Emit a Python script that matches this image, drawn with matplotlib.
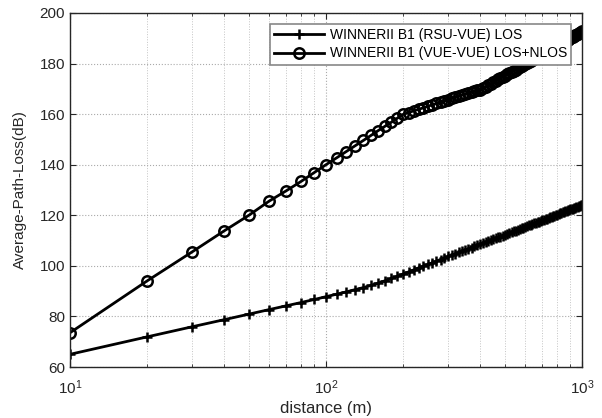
import numpy as np
import matplotlib
matplotlib.use('Agg')
import matplotlib.pyplot as plt
from matplotlib.ticker import LogLocator, NullFormatter

plt.rcParams['font.family'] = ['Liberation Sans', 'DejaVu Sans']
plt.rcParams['mathtext.default'] = 'regular'

# distance axis, 10 m .. 1000 m in 10 m steps
distance = np.arange(10, 1001, 10)

# WINNER II B1 (RSU-VUE) LOS
pl_rsu_los = [
    65.0, 71.9, 75.9, 78.7, 80.9, 82.7, 84.2, 85.5, 86.7, 87.8,
    88.8, 89.7, 90.6, 91.4, 92.3, 93.2, 94.1, 95.0, 95.9, 96.8,
    97.6, 98.4, 99.2, 99.9, 100.6, 101.2, 101.9, 102.5, 103.1, 103.7,
    104.2, 104.8, 105.3, 105.8, 106.3, 106.8, 107.2, 107.7, 108.1, 108.5,
    109.0, 109.4, 109.8, 110.2, 110.5, 110.9, 111.3, 111.6, 112.0, 112.3,
    112.7, 113.0, 113.3, 113.6, 113.9, 114.2, 114.5, 114.8, 115.1, 115.4,
    115.7, 116.0, 116.2, 116.5, 116.8, 117.0, 117.3, 117.5, 117.8, 118.0,
    118.3, 118.5, 118.7, 119.0, 119.2, 119.4, 119.6, 119.9, 120.1, 120.3,
    120.5, 120.7, 120.9, 121.1, 121.3, 121.5, 121.7, 121.9, 122.1, 122.3,
    122.5, 122.6, 122.8, 123.0, 123.2, 123.4, 123.5, 123.7, 123.9, 124.1,
]

# WINNER II B1 (VUE-VUE) LOS+NLOS
pl_vue_mix = [
    73.5, 94.0, 105.5, 113.8, 120.0, 125.6, 129.7, 133.4, 136.9, 140.0,
    142.7, 145.2, 147.5, 149.6, 151.6, 153.5, 155.2, 156.8, 158.4, 159.9,
    160.6, 161.3, 161.9, 162.5, 163.1, 163.7, 164.2, 164.7, 165.2, 165.7,
    166.2, 166.6, 167.1, 167.5, 167.9, 168.3, 168.7, 169.1, 169.4, 169.7,
    170.2, 170.8, 171.4, 172.0, 172.6, 173.1, 173.7, 174.2, 174.7, 175.2,
    175.7, 176.2, 176.7, 177.2, 177.6, 178.1, 178.5, 179.0, 179.4, 179.8,
    180.2, 180.6, 181.0, 181.4, 181.8, 182.2, 182.6, 183.0, 183.3, 183.7,
    184.1, 184.4, 184.8, 185.1, 185.4, 185.8, 186.1, 186.4, 186.7, 187.1,
    187.4, 187.7, 188.0, 188.3, 188.6, 188.9, 189.2, 189.5, 189.7, 190.0,
    190.3, 190.6, 190.9, 191.1, 191.4, 191.7, 191.9, 192.2, 192.4, 192.7,
]

fig = plt.figure(figsize=(6.02, 4.18), dpi=100)
ax = fig.add_axes([0.116, 0.122, 0.851, 0.847])

ax.semilogx(distance, pl_rsu_los, 'k-+', lw=2, ms=7.5, mew=1.8,
            label='WINNERII B1 (RSU-VUE) LOS')
ax.semilogx(distance, pl_vue_mix, 'k-o', lw=2, ms=7.5, mew=1.8, mfc='none',
            label='WINNERII B1 (VUE-VUE) LOS+NLOS')

ax.set_xlim(10, 1000)
ax.set_ylim(60, 200)
ax.set_yticks(np.arange(60, 201, 20))
ax.xaxis.set_minor_locator(LogLocator(base=10, subs=np.arange(2, 10)))
ax.xaxis.set_minor_formatter(NullFormatter())

ax.grid(True, which='major', ls=':', color='#aaaaaa', lw=0.8)
ax.grid(True, which='minor', axis='x', ls=':', color='#c4c4c4', lw=0.7)
ax.tick_params(which='both', direction='in', top=True, right=True,
               labelsize=11, colors='#262626')
ax.tick_params(which='major', length=4)
ax.tick_params(which='minor', length=2.5)
ax.tick_params(axis='x', which='major', pad=8)
for s in ax.spines.values():
    s.set_color('#262626')
    s.set_linewidth(1.0)

ax.set_xlabel('distance (m)', fontsize=12, color='#262626', labelpad=3)
ax.set_ylabel('Average-Path-Loss(dB)', fontsize=11, color='#262626', labelpad=9)

leg = ax.legend(loc='upper right', fontsize=10, handlelength=3.6,
                fancybox=False, framealpha=1, edgecolor='#888888',
                borderpad=0.3, labelspacing=0.3, handletextpad=0.4,
                borderaxespad=0.8)
leg.get_frame().set_linewidth(1.2)

fig.savefig('out.png', dpi=100)
